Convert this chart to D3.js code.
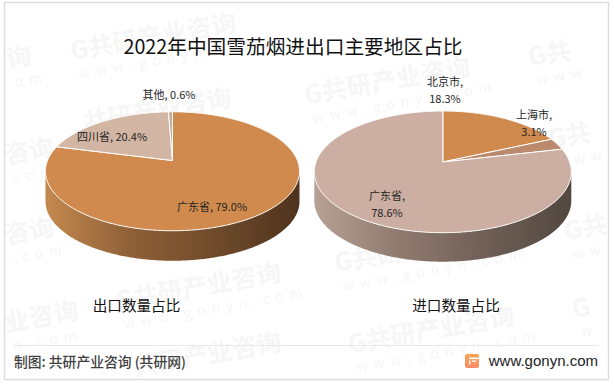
<!DOCTYPE html>
<html>
<head>
<meta charset="utf-8">
<script src="https://cdn.jsdelivr.net/npm/d3@7"></script>
<style>
    html, body { margin: 0; padding: 0; background: #fff; }
    text { font-family: "Noto Sans CJK SC", "Noto Sans", sans-serif; }
</style>
</head>
<body>
<div id="chart"></div>
<script>
const title = "2022年中国雪茄烟进出口主要地区占比";
const exportNames = ["广东省", "四川省", "其他"];
const exportShares = [79.0, 20.4, 0.6];
const exportColors = ["#d08a4d", "#d2b5a3", "#c9ab9d"];
const importNames = ["北京市", "上海市", "广东省"];
const importShares = [18.3, 3.1, 78.6];
const importColors = ["#d08a4d", "#b98a6c", "#ccaea2"];

const width = 614, height = 384;
const svg = d3.select("#chart").append("svg")
    .attr("width", width)
    .attr("height", height)
    .style("display", "block");
const defs = svg.append("defs");

// watermark goes under everything else, only the characters that fit the page
const marks = [
    [72, 60, "G共研产业咨询", "www.gonyn.com"],
    [306, 104, "G共研产业咨询", "www.gonyn.com"],
    [530, 66, "G共", "www"],
    [550, 148, "G共", "www"],
    [85, 132, "共研产业咨询", ""],
    [8, 68, "询", "om"],
    [6, 164, "咨询", "com"],
    [6, 244, "咨询", ".com"],
    [6, 332, "业咨询", "n.com"],
    [117, 310, "G共研产业咨询", "www.gonyn.com"],
    [350, 353, "G共研产业咨询", "www.gonyn.com"],
    [336, 272, "G共研产业咨询", "www.gonyn.com"],
    [566, 240, "G共", "ww"],
    [574, 318, "G", "w"],
    [135, 376, "共研产业咨询", ""]
];
marks.forEach(([x, y, name, site]) => {
    const g = svg.append("g")
        .attr("transform", `translate(${x},${y}) rotate(-10)`)
        .attr("fill", "#f6f6f6");
    g.append("text").attr("font-size", 25).attr("font-weight", 700).text(name);
    if (site) {
        g.append("text").attr("x", 4).attr("y", 20).attr("font-size", 14).attr("letter-spacing", 6).text(site);
    }
});

// frame
svg.append("rect")
    .attr("x", 4.5).attr("y", 2.5)
    .attr("width", 604).attr("height", 377)
    .attr("fill", "none")
    .attr("stroke", "#dcdcdc")
    .attr("stroke-width", 1.4);

svg.append("text")
    .attr("x", 293).attr("y", 54)
    .attr("text-anchor", "middle")
    .attr("font-size", 19.7)
    .attr("fill", "#111")
    .text(title);

// tilted pie: perspective projection of the unit circle
function projector(p) {
    return (angle, r = 1) => {
        const u = Math.sin(angle) * r, v = -Math.cos(angle) * r;
        const d = 1 + p.tilt * v;
        return [p.cx + p.bx * u / d, p.cy + p.by * v / d];
    };
}

function drawPie(p, shares, colors, gradId, gradStops) {
    const project = projector(p);
    const arcs = d3.pie().sort(null)(shares);
    const g = svg.append("g");

    const grad = defs.append("linearGradient").attr("id", gradId);
    gradStops.forEach((c, i) => {
        grad.append("stop").attr("offset", i / (gradStops.length - 1)).attr("stop-color", c);
    });

    // outer rim sampled round the circle
    const rim = d3.range(0, 721).map(i => project(i / 720 * 2 * Math.PI));
    const left = d3.least(rim, d => d[0]), right = d3.greatest(rim, d => d[0]);
    const leftI = rim.indexOf(left), rightI = rim.indexOf(right);
    // front arc runs clockwise from rightmost to leftmost point
    const front = rim.slice(rightI, leftI + 1);
    const wall = front.concat(front.slice().reverse().map(d => [d[0], d[1] + p.depth]));
    g.append("path")
        .attr("d", d3.line()(wall) + "Z")
        .attr("fill", `url(#${gradId})`);

    arcs.forEach((a, i) => {
        const n = Math.max(2, Math.ceil((a.endAngle - a.startAngle) * 120));
        const pts = d3.range(n + 1).map(k => project(a.startAngle + (a.endAngle - a.startAngle) * k / n));
        g.append("path")
            .attr("d", d3.line()([project(0, 0), ...pts]) + "Z")
            .attr("fill", colors[i])
            .attr("stroke", "#fff")
            .attr("stroke-width", 1)
            .attr("stroke-linejoin", "round");
    });
}

const leftPie = { cx: 172.5, cy: 160.5, bx: 124.9, by: 57.5, tilt: -0.1815, depth: 30 };
const rightPie = { cx: 442.8, cy: 162, bx: 126.8, by: 59.25, tilt: -0.162, depth: 29 };

drawPie(leftPie, exportShares, exportColors, "wallLeft", ["#c4894f", "#8f6037", "#6f4b2b", "#4f331d"]);
drawPie(rightPie, importShares, importColors, "wallRight", ["#b8a195", "#8f7a6f", "#6f5f56", "#524840"]);

// data labels
const labels = [
    { lines: [`${exportNames[0]}, ${exportShares[0].toFixed(1)}%`], x: 212, y: 211 },
    { lines: [`${exportNames[1]}, ${exportShares[1].toFixed(1)}%`], x: 112, y: 141 },
    { lines: [`${exportNames[2]}, ${exportShares[2].toFixed(1)}%`], x: 169, y: 99 },
    { lines: [`${importNames[0]},`, `${importShares[0].toFixed(1)}%`], x: 445, y: 86 },
    { lines: [`${importNames[1]},`, `${importShares[1].toFixed(1)}%`], x: 534, y: 119 },
    { lines: [`${importNames[2]},`, `${importShares[2].toFixed(1)}%`], x: 387, y: 200 }
];
labels.forEach(l => {
    l.lines.forEach((t, i) => {
        svg.append("text")
            .attr("x", l.x).attr("y", l.y + i * 16.5)
            .attr("text-anchor", "middle")
            .attr("font-size", 11)
            .attr("fill", "#262626")
            .text(t);
    });
});

svg.append("text").attr("x", 136.5).attr("y", 311).attr("text-anchor", "middle")
    .attr("font-size", 14.6).attr("fill", "#111").text("出口数量占比");
svg.append("text").attr("x", 456).attr("y", 311).attr("text-anchor", "middle")
    .attr("font-size", 14.6).attr("fill", "#111").text("进口数量占比");

// footer
svg.append("line")
    .attr("x1", 15).attr("x2", 598)
    .attr("y1", 345.5).attr("y2", 345.5)
    .attr("stroke", "#e8e8e8");
svg.append("text")
    .attr("x", 14).attr("y", 367)
    .attr("font-size", 13.8)
    .attr("font-weight", 500)
    .attr("fill", "#404040")
    .text("制图: 共研产业咨询 (共研网)");

// logo block with the white slits of its G
const logoGrad = defs.append("linearGradient").attr("id", "logoGrad")
    .attr("x1", 0).attr("y1", 0).attr("x2", 0).attr("y2", 1);
logoGrad.append("stop").attr("offset", 0).attr("stop-color", "#f9a44f");
logoGrad.append("stop").attr("offset", 1).attr("stop-color", "#f98d6c");
svg.append("rect")
    .attr("x", 465).attr("y", 354)
    .attr("width", 14).attr("height", 14)
    .attr("rx", 2)
    .attr("fill", "url(#logoGrad)");
svg.append("rect").attr("x", 469).attr("y", 357.5).attr("width", 10).attr("height", 1.6).attr("fill", "#fff");
svg.append("rect").attr("x", 472).attr("y", 360.5).attr("width", 4).attr("height", 1.4).attr("fill", "#fff");
svg.append("rect").attr("x", 469).attr("y", 360.5).attr("width", 1.4).attr("height", 4).attr("fill", "#fff");

svg.append("text")
    .attr("x", 598).attr("y", 366)
    .attr("text-anchor", "end")
    .style("font-family", "'Liberation Sans'")
    .attr("font-size", 15)
    .attr("fill", "#222")
    .text("www.gonyn.com");
</script>
</body>
</html>
